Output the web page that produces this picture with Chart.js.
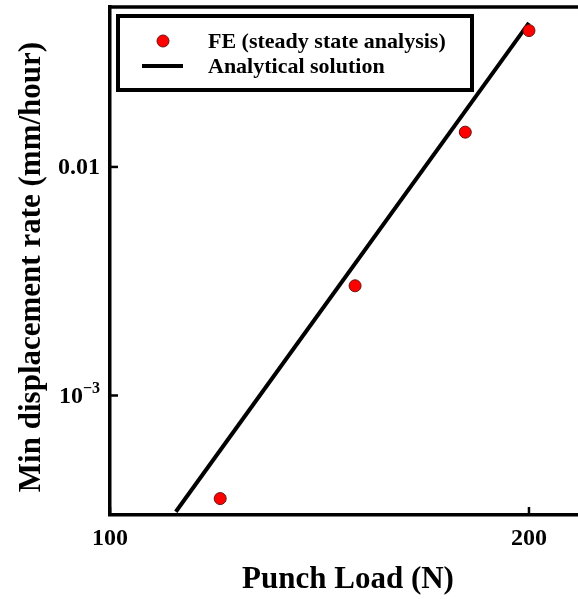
<!DOCTYPE html>
<html>
<head>
<meta charset="utf-8">
<script src="https://cdn.jsdelivr.net/npm/chart.js@4.4.1/dist/chart.umd.min.js"></script>
<style>
  html, body { margin: 0; padding: 0; background: #fff; }
  #wrap { width: 578px; height: 599px; }
</style>
</head>
<body>
<div id="wrap"><canvas id="chart" width="578" height="599"></canvas></div>
<script>
// values
const feLoad = [120, 150, 180, 200];
const feRate = [3.54e-4, 3.02e-3, 0.0142, 0.0395];
const analyticLoad = [111.5, 200];
const analyticRate = [3.1e-4, 0.0427];
const xTicks = [100, 200];
const yTicks = [0.001, 0.01];
const xRange = [100, 216.9];
const yRange = [3.1e-4, 0.0501];
const legendLabels = ["FE (steady state analysis)", "Analytical solution"];
const xTitle = "Punch Load (N)";
const yTitle = "Min displacement rate (mm/hour)";

const SERIF = "'Liberation Serif', 'Times New Roman', serif";
const font = (size) => "bold " + size + "px " + SERIF;

const toPoints = (xs, ys) => xs.map((x, i) => ({ x: x, y: ys[i] }));

const framePlugin = {
  id: "framePlugin",
  afterDraw: function (chart) {
    const { ctx, chartArea } = chart;
    const xs = chart.scales.x;
    const ys = chart.scales.y;

    ctx.save();
    ctx.strokeStyle = "#000";
    ctx.fillStyle = "#000";
    ctx.lineCap = "butt";

    // top frame line
    ctx.lineWidth = 3.5;
    ctx.beginPath();
    ctx.moveTo(chartArea.left - 1.5, chartArea.top);
    ctx.lineTo(chartArea.right, chartArea.top);
    ctx.stroke();

    // inward ticks
    ctx.lineWidth = 2.5;
    xTicks.forEach((v) => {
      const px = xs.getPixelForValue(v);
      ctx.beginPath();
      ctx.moveTo(px, chartArea.bottom);
      ctx.lineTo(px, chartArea.bottom - 8);
      ctx.stroke();
    });
    yTicks.forEach((v) => {
      const py = ys.getPixelForValue(v);
      ctx.beginPath();
      ctx.moveTo(chartArea.left, py);
      ctx.lineTo(chartArea.left + 8, py);
      ctx.stroke();
    });

    // x tick labels
    ctx.font = font(24);
    ctx.textAlign = "center";
    ctx.textBaseline = "middle";
    xTicks.forEach((v) => {
      ctx.fillText(String(v), xs.getPixelForValue(v), chartArea.bottom + 24);
    });

    // y tick labels
    const labelRight = chartArea.left - 10;
    yTicks.forEach((v) => {
      const py = ys.getPixelForValue(v);
      const exp = Math.round(Math.log10(v));
      ctx.textAlign = "right";
      if (exp >= -2) {
        ctx.font = font(24);
        ctx.fillText(v.toString(), labelRight, py + 1);
      } else {
        ctx.font = font(16);
        const sup = "\u2212" + Math.abs(exp);
        const supW = ctx.measureText(sup).width;
        ctx.fillText(sup, labelRight, py - 7);
        ctx.font = font(24);
        ctx.fillText("10", labelRight - supW, py + 1);
      }
    });

    // axis titles
    ctx.font = font(31);
    ctx.textAlign = "center";
    ctx.fillText(xTitle, 348, 580);
    ctx.save();
    ctx.translate(32, 267);
    ctx.rotate(-Math.PI / 2);
    ctx.fillText(yTitle, 0, 0);
    ctx.restore();

    // legend box
    ctx.lineWidth = 4;
    ctx.strokeRect(118, 16, 354, 74);
    ctx.beginPath();
    ctx.arc(163, 41, 6, 0, Math.PI * 2);
    ctx.fillStyle = "#ff0000";
    ctx.fill();
    ctx.lineWidth = 1;
    ctx.strokeStyle = "#6a1010";
    ctx.stroke();
    ctx.strokeStyle = "#000";
    ctx.lineWidth = 4;
    ctx.beginPath();
    ctx.moveTo(142, 66);
    ctx.lineTo(183, 66);
    ctx.stroke();
    ctx.fillStyle = "#000";
    ctx.font = font(22);
    ctx.textAlign = "left";
    ctx.fillText(legendLabels[0], 208, 42);
    ctx.fillText(legendLabels[1], 208, 67);

    ctx.restore();
  },
};

new Chart(document.getElementById("chart"), {
  type: "scatter",
  data: {
    datasets: [
      {
        label: legendLabels[0],
        data: toPoints(feLoad, feRate),
        backgroundColor: "#ff0000",
        borderColor: "#6a1010",
        borderWidth: 1,
        pointRadius: 6,
        order: 0,
      },
      {
        label: legendLabels[1],
        data: toPoints(analyticLoad, analyticRate),
        showLine: true,
        borderColor: "#000",
        borderWidth: 4,
        pointRadius: 0,
        order: 1,
      },
    ],
  },
  options: {
    responsive: false,
    animation: false,
    layout: {
      autoPadding: false,
      padding: { left: 110, top: 7, right: 0, bottom: 84 },
    },
    plugins: { legend: { display: false }, tooltip: { enabled: false } },
    scales: {
      x: {
        type: "logarithmic",
        min: xRange[0],
        max: xRange[1],
        ticks: { display: false },
        grid: { display: false, drawTicks: false },
        border: { display: true, width: 3.5, color: "#000" },
      },
      y: {
        type: "logarithmic",
        min: yRange[0],
        max: yRange[1],
        ticks: { display: false },
        grid: { display: false, drawTicks: false },
        border: { display: true, width: 3.5, color: "#000" },
      },
    },
  },
  plugins: [framePlugin],
});
</script>
</body>
</html>
